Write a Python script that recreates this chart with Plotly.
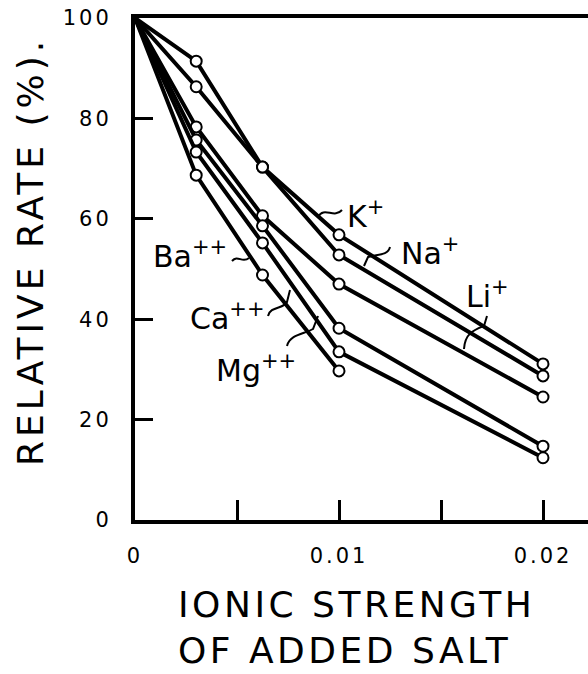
import plotly.graph_objects as go

# ---- data ----
ionic_strength = [0, 0.003, 0.00625, 0.01, 0.02]
k_plus = [100, 91.4, 70.3, 56.8, 31.1]
na_plus = [100, 86.3, 70.3, 52.8, 28.7]
li_plus = [100, 78.3, 60.6, 47.0, 24.5]
mg_pp = [100, 75.7, 58.6, 38.2, 14.7]
ca_pp = [100, 73.3, 55.2, 33.5, 12.4]
ba_x = [0, 0.003, 0.00625, 0.01]
ba_pp = [100, 68.7, 48.8, 29.7]

x_tickvals = [0, 0.005, 0.01, 0.015, 0.02]
x_ticktext = ["0", "", "0.01", "", "0.02"]
y_tickvals = [0, 20, 40, 60, 80, 100]
y_ticktext = ["0", "20", "40", "60", "80", "100"]

# ---- layout geometry (pixels) ----
W, H = 588, 674
L, T, B = 135, 18, 520
XR = (W - L) / 20400.0  # x range end
FONT = "DejaVu Sans"


def X(px):
    return (px - L) / 20400.0


def Y(py):
    return (B - py) / 5.02


def PX(px):
    return (px - L) / (W - L)


def PY(py):
    return (B - py) / (B - T)


def spaced(s, sp):
    return f"<span style='letter-spacing:{sp}px'>{s}</span>" if s else ""


fig = go.Figure()

series = [
    ("K+", ionic_strength, k_plus),
    ("Na+", ionic_strength, na_plus),
    ("Li+", ionic_strength, li_plus),
    ("Mg++", ionic_strength, mg_pp),
    ("Ca++", ionic_strength, ca_pp),
    ("Ba++", ba_x, ba_pp),
]
for name, xs, ys in series:
    sizes = [0] + [11] * (len(xs) - 1)
    fig.add_trace(go.Scatter(
        x=xs, y=ys, name=name, mode="lines+markers",
        line=dict(color="black", width=4),
        marker=dict(size=sizes, color="white", symbol="circle", opacity=1,
                    line=dict(color="black", width=2)),
        showlegend=False, cliponaxis=False,
    ))

# ---- ion labels ----
labels = [
    ("K<sup>+</sup>", 365, 214),
    ("Na<sup>+</sup>", 430, 251),
    ("Li<sup>+</sup>", 487, 294),
    ("Ba<sup>++</sup>", 190, 254),
    ("Ca<sup>++</sup>", 227, 316),
    ("Mg<sup>++</sup>", 256, 368),
]
for txt, px, py in labels:
    fig.add_annotation(x=X(px), y=Y(py), xref="x", yref="y", text=txt,
                       showarrow=False, font=dict(family=FONT, size=30, color="black"),
                       xanchor="center", yanchor="middle")


def pth(cmds):
    out = []
    for c in cmds:
        if isinstance(c, str):
            out.append(c)
        else:
            out.append(f"{X(c[0]):.6f},{Y(c[1]):.4f}")
    return " ".join(out)


leaders = [
    ["M", (318, 217), "C", (324, 206), (334, 219), (342, 210)],
    ["M", (364, 266), "L", (368, 257), "C", (376, 254), (388, 256), (390, 247)],
    ["M", (487, 316), "L", (484, 326), "C", (474, 330), (465, 333), (464, 349)],
    ["M", (232, 261), "C", (238, 254), (242, 264), (249, 258)],
    ["M", (268, 316), "C", (270, 306), (284, 309), (287, 302), "L", (290, 290)],
    ["M", (287, 346), "C", (290, 334), (305, 334), (313, 329), "L", (318, 316)],
]
for ld in leaders:
    fig.add_shape(type="path", path=pth(ld), xref="x", yref="y",
                  line=dict(color="black", width=2))

# ---- axis titles ----
fig.add_annotation(xref="paper", yref="paper", x=PX(30), y=PY(252),
                   text=spaced("RELATIVE RATE (%).", 4),
                   textangle=-90, showarrow=False,
                   font=dict(family=FONT, size=36, color="black"),
                   xanchor="center", yanchor="middle")
fig.add_annotation(xref="paper", yref="paper", x=PX(356), y=PY(604),
                   text=spaced("IONIC STRENGTH", 3.5),
                   showarrow=False, font=dict(family=FONT, size=36, color="black"),
                   xanchor="center", yanchor="middle")
fig.add_annotation(xref="paper", yref="paper", x=PX(344), y=PY(650),
                   text=spaced("OF ADDED SALT", 3.5),
                   showarrow=False, font=dict(family=FONT, size=36, color="black"),
                   xanchor="center", yanchor="middle")

fig.update_layout(
    width=W, height=H,
    margin=dict(l=L, r=0, t=T, b=H - B, pad=0),
    paper_bgcolor="white", plot_bgcolor="white",
    font=dict(family=FONT, color="black"),
)
fig.update_xaxes(
    range=[0, XR], showgrid=False, zeroline=False,
    showline=True, linecolor="black", linewidth=4, mirror=True,
    ticks="inside", ticklen=20, tickwidth=3, tickcolor="black",
    tickvals=x_tickvals, ticktext=[spaced(t, 3) for t in x_ticktext],
    tickfont=dict(family=FONT, size=21, color="black"),
    ticklabelstandoff=14,
)
fig.update_yaxes(
    range=[0, 100], showgrid=False, zeroline=False,
    showline=True, linecolor="black", linewidth=4,
    ticks="inside", ticklen=18, tickwidth=3, tickcolor="black",
    tickvals=y_tickvals, ticktext=[spaced(t, 3) for t in y_ticktext],
    tickfont=dict(family=FONT, size=21, color="black"),
    ticklabelstandoff=15,
)

fig.write_html("out.html")
